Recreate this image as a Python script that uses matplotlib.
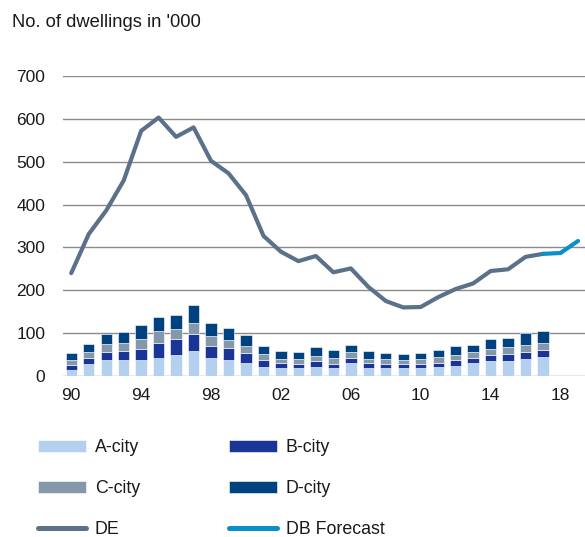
import matplotlib.pyplot as plt
import numpy as np

plt.rcParams['font.family'] = ['Liberation Sans', 'DejaVu Sans']

# data
years = list(range(1990, 2018))
a_city = [15, 27, 37, 37, 38, 43, 50, 58, 43, 37, 31, 22, 18, 18,
          22, 18, 30, 19, 19, 18, 18, 20, 23, 30, 34, 36, 40, 44]
b_city = [11, 16, 19, 22, 25, 35, 36, 39, 28, 29, 22, 16, 13, 11,
          12, 11, 13, 12, 10, 11, 11, 11, 14, 12, 14, 16, 17, 17]
c_city = [11, 12, 18, 17, 23, 27, 24, 26, 23, 17, 16, 14, 9, 11,
          12, 12, 12, 9, 10, 9, 10, 13, 13, 13, 16, 15, 16, 17]
d_city = [17, 20, 23, 26, 32, 32, 33, 42, 29, 28, 26, 18, 18, 15,
          22, 19, 18, 19, 15, 14, 15, 16, 19, 17, 22, 21, 27, 27]

de_years = list(range(1990, 2018))
de = [240, 331, 386, 456, 572, 603, 558, 580, 502, 473, 422, 327, 290, 268,
      280, 242, 251, 208, 175, 160, 161, 184, 203, 216, 245, 249, 278, 285]
fc_years = [2017, 2018, 2019]
forecast = [285, 287, 315]

col_a = '#b3d1ef'
col_b = '#1b3497'
col_c = '#8497ab'
col_d = '#00427f'
col_de = '#5b7189'
col_fc = '#0a8fc8'

fig = plt.figure(figsize=(5.85, 5.37), dpi=100)
ax = fig.add_axes([62.5/585, 161/537, 1 - 62.5/585, 300/537])

x = np.array(years)
a = np.array(a_city)
b = np.array(b_city)
c = np.array(c_city)
d = np.array(d_city)
w = 0.65
kw = dict(width=w, edgecolor='white', linewidth=0.4, zorder=2)
ha = ax.bar(x, a, color=col_a, label='A-city', **kw)
hb = ax.bar(x, b, bottom=a, color=col_b, label='B-city', **kw)
hc = ax.bar(x, c, bottom=a + b, color=col_c, label='C-city', **kw)
hd = ax.bar(x, d, bottom=a + b + c, color=col_d, label='D-city', **kw)

hde, = ax.plot(de_years, de, color=col_de, lw=3, solid_capstyle='round',
               solid_joinstyle='round', zorder=3, label='DE')
hfc, = ax.plot(fc_years, forecast, color=col_fc, lw=3, solid_capstyle='round',
               solid_joinstyle='round', zorder=4, label='DB Forecast')

ax.set_ylim(0, 700)
ax.set_xlim(1989.5, 2019.4)
ax.set_yticks(range(0, 701, 100))
ax.set_xticks(range(1990, 2019, 4))
ax.set_xticklabels(['90', '94', '98', '02', '06', '10', '14', '18'])
ax.yaxis.grid(True, color='#8a8a8a', linewidth=1.0, zorder=0)
ax.set_axisbelow(True)
for s in ax.spines.values():
    s.set_visible(False)
ax.tick_params(axis='both', length=0, labelsize=12.5, colors='#1a1a1a')
ax.tick_params(axis='y', pad=12.5)
ax.tick_params(axis='x', pad=9)

fig.text(12/585, 1 - 27/537, "No. of dwellings in '000", fontsize=13.2,
         color='#1a1a1a', va='baseline', ha='left')

leg = fig.legend([ha, hc, hde, hb, hd, hfc],
                 ['A-city', 'C-city', 'DE', 'B-city', 'D-city', 'DB Forecast'],
                 ncol=2, loc='upper left', bbox_to_anchor=(38/585, 1 - 439/537),
                 frameon=False, fontsize=12.8, borderpad=0, borderaxespad=0,
                 handlelength=2.7, handleheight=0.63, handletextpad=0.5,
                 labelspacing=1.36, columnspacing=5.0, labelcolor='#1a1a1a')
for ln in leg.get_lines():
    ln.set_linewidth(3.6)

fig.savefig('out.png', dpi=100)
